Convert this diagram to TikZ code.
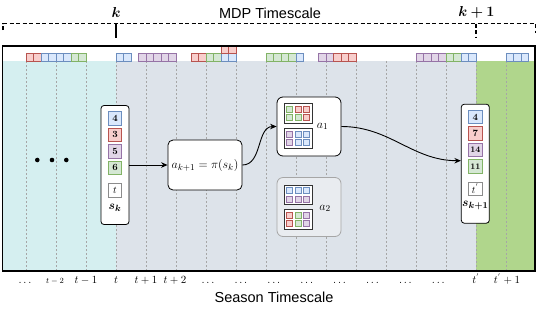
\documentclass[tikz,border=0pt]{standalone}
\usepackage{fontspec}
\usepackage{bm}
\newfontfamily\labsans{Liberation Sans}
\usetikzlibrary{arrows.meta, positioning}

\definecolor{blfill}{HTML}{DAE8FC}\definecolor{blline}{HTML}{6C8EBF}
\definecolor{rdfill}{HTML}{F8CECC}\definecolor{rdline}{HTML}{B85450}
\definecolor{gnfill}{HTML}{D5E8D4}\definecolor{gnline}{HTML}{82B366}
\definecolor{pufill}{HTML}{E1D5E7}\definecolor{puline}{HTML}{9673A6}
\definecolor{cyanbg}{HTML}{D5EFF0}
\definecolor{graybg}{HTML}{DDE3EA}
\definecolor{greenbg}{HTML}{B0D68C}
\definecolor{fadebg}{HTML}{E9ECF0}

\begin{document}
\begin{tikzpicture}[x=1pt, y=-1pt, >={Stealth[length=6.5pt, width=5.5pt]},
  sq/.style={draw=#1line, fill=#1fill, line width=0.6pt},
  numcell/.style={draw=#1line, fill=#1fill, line width=0.7pt, minimum size=13.5pt,
                  inner sep=0pt, font=\fontsize{9.5}{9.5}\bfseries\selectfont},
  tcell/.style={draw=black!45, fill=white, line width=0.7pt, minimum size=13.5pt,
                inner sep=0pt, font=\fontsize{10}{10}\selectfont},
  stbox/.style={draw, fill=white, rounded corners=3pt, line width=0.8pt,
                minimum width=28pt, minimum height=119pt, inner sep=0pt},
  slab/.style={inner sep=0pt, font=\fontsize{13}{14}\selectfont},
  polbox/.style={draw, fill=white, rounded corners=5pt, line width=0.8pt,
                 minimum width=74pt, minimum height=50pt, inner sep=0pt,
                 font=\fontsize{12.5}{14}\selectfont},
  actbox/.style={draw, fill=white, rounded corners=6pt, line width=0.8pt,
                 minimum width=64pt, minimum height=59pt, inner sep=0pt},
  fadebox/.style={actbox, draw=black!35, fill=fadebg},
  agrid/.style={draw=black!80, fill=white, line width=0.8pt, minimum width=28pt,
                minimum height=19.5pt, inner sep=0pt},
  mini/.style={draw=#1line, fill=#1fill, line width=0.6pt, minimum size=6pt, inner sep=0pt},
  gline/.style={black!35, line width=0.8pt, dash pattern=on 2pt off 2pt},
  bracket/.style={line width=1.1pt, dash pattern=on 4pt off 2.5pt},
  tlab/.style={anchor=base, inner sep=0pt, font=\fontsize{10.5}{11}\selectfont},
  arr/.style={->, line width=0.9pt}]

\useasboundingbox (0,0) rectangle (538,309);

% --- season background
\fill[cyanbg]  (2.5,61) rectangle (116,271);
\fill[graybg]  (116,61) rectangle (476,271);
\fill[greenbg] (476,61) rectangle (535,271);
\foreach \i in {0,...,16}
  \draw[gline] ({26+30*\i},61) -- ({26+30*\i},271);

% --- season strip
\foreach \x/\n/\c in {26/2/rd, 41/4/bl, 71/2/gn, 116/2/bl, 138.5/5/pu, 191/2/rd, 206/2/gn,
                      221/2/bl, 266/4/gn, 296/1/bl, 318.5/2/pu, 333.5/3/rd, 416/4/pu,
                      446/2/gn, 461/2/bl, 506/3/bl}
  \foreach \j in {1,...,\n}
    \draw[sq=\c] ({\x+7.5*(\j-1)},53.5) rectangle ++(7.5,7.5);
\draw[sq=rd] (221,46) rectangle ++(7.5,7.5);
\draw[sq=rd] (228.5,46) rectangle ++(7.5,7.5);

\draw[line width=1.6pt] (2.5,46) rectangle (535,271);

% --- MDP timescale
\draw[bracket] (3,30) -- (3,23.5) -- (535.5,23.5) -- (535.5,33);
\draw[line width=1.2pt] (116,23.5) -- (116,38);
\draw[bracket] (476,23.5) -- (476,38);
\node[font=\fontsize{14}{16}\selectfont] (klab) at (116,12.5) {$\bm{k}$};
\node[font=\fontsize{14}{16}\selectfont] (k1lab) at (476.5,12.5) {$\bm{k+1}$};
\node[font=\labsans\fontsize{14.5}{16}\selectfont] (mdp) at (270,13) {MDP Timescale};

% --- earlier steps
\foreach \x in {37.3,52,66.3}
  \fill (\x,160) circle (2.3);

% --- state s_k
\node[stbox] (sk) at (115,165) {};
\node[numcell=bl] (sk1) at (115,118.3) {4};
\node[numcell=rd, below=2.3pt of sk1] (sk2) {3};
\node[numcell=pu, below=2.3pt of sk2] (sk3) {5};
\node[numcell=gn, below=2.3pt of sk3] (sk4) {6};
\node[tcell, below=8.5pt of sk4] (skt) {$t$};
\node[slab, below=6pt of skt] (sklab) {$\bm{s_k}$};

% --- policy
\node[polbox] (pol) at (205,165) {$a_{k+1}=\pi(s_k)$};

% --- actions
\node[actbox] (a1) at (309,126.5) {};
\node[agrid] (a1top) at (298,113.5) {};
\node[agrid, below=4.5pt of a1top] (a1bot) {};
\node[slab] (a1lab) at (322.5,126.5) {$a_1$};

\node[fadebox] (a2) at (309,207) {};
\node[agrid] (a2top) at (298,194.7) {};
\node[agrid, below=4.5pt of a2top] (a2bot) {};
\node[slab] (a2lab) at (325,208.5) {$a_2$};

\foreach \g/\cols in {a1top/{gn,rd,rd,gn,gn,rd}, a1bot/{pu,bl,bl,pu,bl,bl},
                      a2top/{bl,bl,bl,pu,pu,pu}, a2bot/{rd,gn,pu,rd,gn,pu}}
  \foreach \c [count=\i from 0] in \cols
    \node[mini=\c] (\g-\i) at ([xshift={8.3*(mod(\i,3)-1)}, yshift={-8.5*(int(\i/3)-0.5)}]\g.center) {};

% --- state s_{k+1}
\node[stbox] (skn) at (475.3,163.7) {};
\node[numcell=bl] (skn1) at (475.3,117) {4};
\node[numcell=rd, below=2.3pt of skn1] (skn2) {7};
\node[numcell=pu, below=2.3pt of skn2, font=\fontsize{8.5}{8.5}\bfseries\selectfont] (skn3) {14};
\node[numcell=gn, below=2.3pt of skn3, font=\fontsize{8.5}{8.5}\bfseries\selectfont] (skn4) {11};
\node[tcell, below=8pt of skn4] (sknt) {$t^{'}$};
\node[slab, below=5pt of sknt] (sknlab) {$\bm{s_{k+1}}$};

\draw[arr] (sk.east) -- (pol.west);
\draw[arr] (pol.east) to[out=0, in=180] (a1.west);
\draw[arr] (a1.east) to[out=0, in=180] ([yshift=3pt]skn.west);

% --- season labels
\foreach \x/\txt [count=\i] in {25/{\ldots}, 86/{t-1}, 116/{t}, 146/{t+1}, 175/{t+2},
                                476/{t^{'}}, 507/{t^{'}+1}}
  \node[tlab] (tl\i) at (\x,283.5) {$\txt$};
\node[tlab, font=\fontsize{8.5}{9}\selectfont] (tlm2) at (55,283.5) {$t-2$};
\foreach \i in {0,...,7}
  \node[tlab] (td\i) at ({208+32.9*\i},283.5) {$\ldots$};
\node[font=\labsans\fontsize{14.5}{16}\selectfont] (season) at (274,297) {Season Timescale};
\end{tikzpicture}
\end{document}
